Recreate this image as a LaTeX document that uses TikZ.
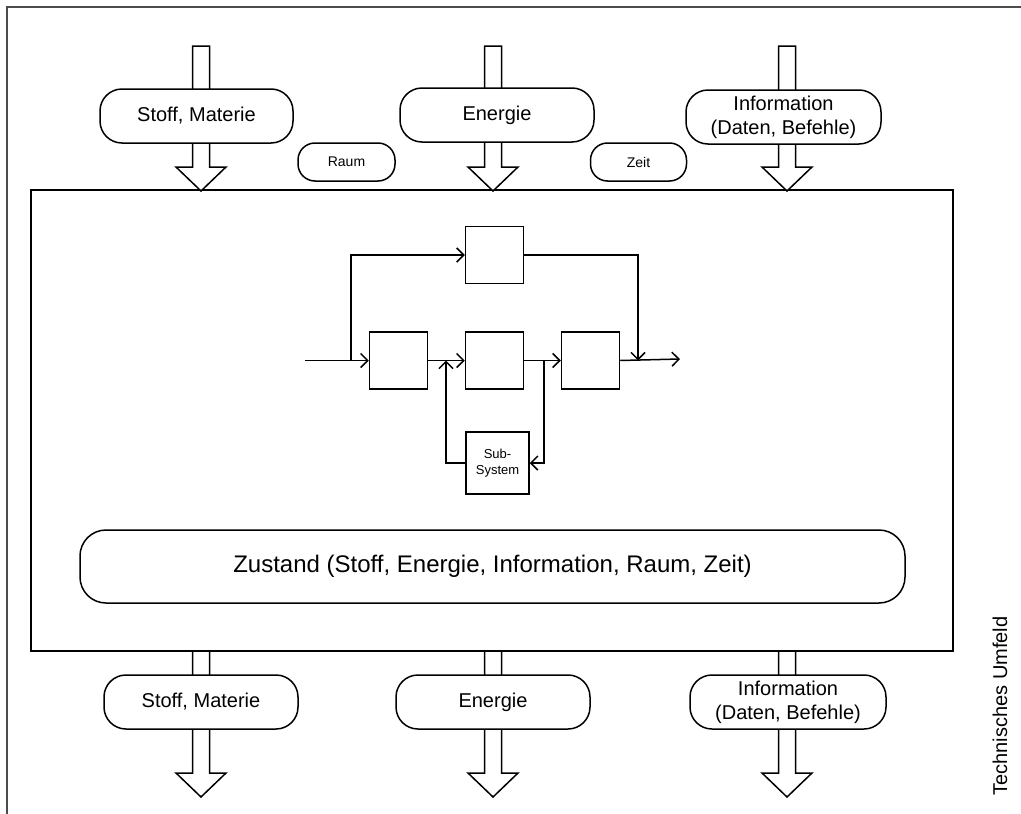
\documentclass[tikz,border=0pt]{standalone}
\usepackage{fontspec}
\setmainfont{Liberation Sans}
\usetikzlibrary{arrows.meta}
\newcommand\fatarrow[3]{%
  \draw[fill=white,line width=1.5pt,line join=miter]
    ({#1-8.5},#2) -- ({#1+8.5},#2) -- ({#1+8.5},{#3-24}) -- ({#1+25},{#3-24})
    -- (#1,#3) -- ({#1-25},{#3-24}) -- ({#1-8.5},{#3-24}) -- cycle;}
\tikzset{
  pill/.style={draw,fill=white,line width=1.5pt,rounded corners=22pt,inner sep=0pt,
    font=\fontsize{20}{24}\selectfont,align=center},
  smallpill/.style={draw,fill=white,line width=1.5pt,rounded corners=17pt,inner sep=0pt,
    font=\fontsize{14}{16}\selectfont,minimum width=97pt,minimum height=38pt},
  blk/.style={draw,line width=1.5pt,inner sep=0pt,minimum width=58pt,minimum height=57pt},
  flow/.style={line width=1.5pt,-{Straight Barb[length=7pt,width=14pt]}},
  plain/.style={line width=1.5pt}
}
\begin{document}
\begin{tikzpicture}[x=1pt,y=-1pt]
\useasboundingbox (0,0) rectangle (1021,814);
% outer frame
\draw[black!70,line width=2pt] (1021,7) -- (7,7) -- (7,814);
% main box
\node[draw,line width=1.8pt,minimum width=922pt,minimum height=461pt,inner sep=0pt] (sys) at (492,420.5) {};
% fat arrows
\fatarrow{201}{46}{191}
\fatarrow{493}{46}{191}
\fatarrow{787}{46}{191}
\fatarrow{201}{651}{797}
\fatarrow{493}{651}{797}
\fatarrow{787}{651}{797}
% top pills
\node[pill,minimum width=193pt,minimum height=54pt] (stoffin) at (196.5,116) {Stoff, Materie};
\node[pill,minimum width=194pt,minimum height=54pt] (energiein) at (497,115) {Energie};
\node[pill,minimum width=195pt,minimum height=54pt] (infoin) at (783.5,117) {Information\\(Daten, Befehle)};
\node[smallpill] (raum) at (346.5,162) {Raum};
\node[smallpill,minimum width=96pt] (zeit) at (638.5,162) {Zeit};
% bottom pills
\node[pill,minimum width=194pt,minimum height=54pt] (stoffout) at (201,702) {Stoff, Materie};
\node[pill,minimum width=194pt,minimum height=54pt] (energieout) at (493,702) {Energie};
\node[pill,minimum width=196pt,minimum height=54pt] (infoout) at (788,702) {Information\\(Daten, Befehle)};
% Zustand
\node[pill,rounded corners=26pt,minimum width=825pt,minimum height=73pt,font=\fontsize{24}{28}\selectfont] (zustand) at (492.5,566.5) {Zustand (Stoff, Energie, Information, Raum, Zeit)};
% inner block diagram
\node[blk] (top) at (494.5,255) {};
\node[blk] (b1) at (398.5,360.5) {};
\node[blk] (b2) at (494.5,360.5) {};
\node[blk] (b3) at (590.5,360.5) {};
\node[blk,minimum width=63pt,minimum height=62pt,align=center,font=\fontsize{13}{16}\selectfont] (sub) at (497.5,463) {Sub-\\System};
\coordinate (in) at (305,360.5);
\coordinate (split) at (351,360.5);
\coordinate (join) at (638,360.5);
\coordinate (out) at (680,359);
\coordinate (fb) at (446,360.5);
\coordinate (tap) at (544,360.5);
\draw[flow] (in) -- (b1.west);
\draw[flow] (split) |- (top.west);
\draw[flow] (top.east) -| (join);
\draw[flow] (b3.east) -- (out);
\draw[flow] (b1.east) -- (b2.west);
\draw[flow] (b2.east) -- (b3.west);
\draw[flow] (sub.west) -| (fb);
\draw[flow] (tap) |- (sub.east);
% side label
\node[rotate=90,font=\fontsize{20}{24}\selectfont] (umfeld) at (1000,706) {Technisches Umfeld};
\end{tikzpicture}
\end{document}
